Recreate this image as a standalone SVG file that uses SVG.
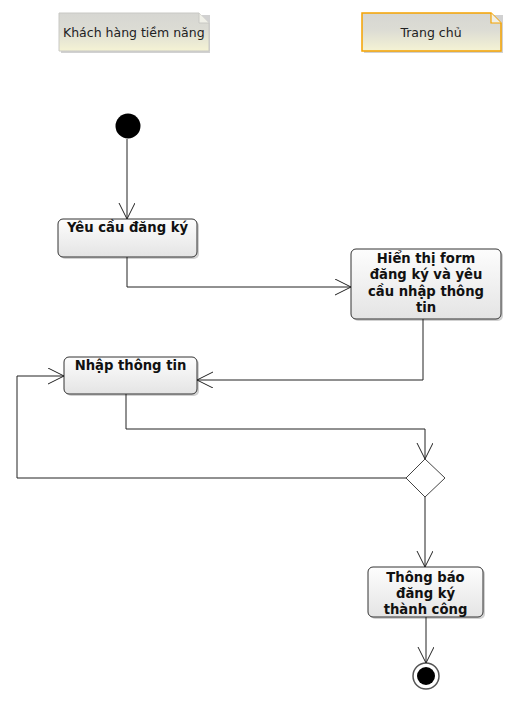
<svg xmlns="http://www.w3.org/2000/svg" width="515" height="718" viewBox="0 0 515 718">
<style>
.note{stroke-width:1}
.nt{font-family:"DejaVu Sans",Verdana,sans-serif;font-size:12.5px;fill:#222}
.act{fill:url(#ag);stroke:#333;stroke-width:1}
.at{font-family:"DejaVu Sans",Verdana,sans-serif;font-size:13.2px;font-weight:bold;fill:#111;text-anchor:middle}
.c{fill:none;stroke:#222;stroke-width:1}
.sh{fill:#000;opacity:0.18}
</style>
<defs>
<linearGradient id="ng" x1="0" y1="0" x2="0" y2="1">
<stop offset="0" stop-color="#d6d6d2"/>
<stop offset="0.45" stop-color="#dcdcd4"/>
<stop offset="1" stop-color="#f5f3d4"/>
</linearGradient>
<linearGradient id="ag" x1="0" y1="0" x2="0" y2="1">
<stop offset="0" stop-color="#fdfdfd"/>
<stop offset="1" stop-color="#e4e4e4"/>
</linearGradient>
<marker id="arr" markerWidth="18" markerHeight="18" refX="16" refY="8" orient="auto" markerUnits="userSpaceOnUse">
<path d="M0,0 L16,8 L0,16" fill="none" stroke="#222" stroke-width="1"/>
</marker>
</defs>

<g id="note-khach">
<path d="M61,15 H210 V53 H61 Z" class="sh"/>
<path d="M59,13 H199 L209,23 V51 H59 Z" fill="url(#ng)" stroke="#c8c8c4"/>
<path d="M199,13 V23 H209" fill="#f0f0e8" stroke="#c8c8c4"/>
<text class="nt" x="63" y="37">Khách hàng tiềm năng</text>
</g>

<g id="note-trang">
<path d="M364,15 H503 V53 H364 Z" class="sh"/>
<path d="M362,13 H491 L501,23 V51 H362 Z" fill="url(#ng)" stroke="#f5a300" stroke-width="1.5"/>
<path d="M491,13 V23 H501" fill="#f0f0e8" stroke="#f5a300" stroke-width="1.2"/>
<text class="nt" x="431" y="37" text-anchor="middle">Trang chủ</text>
</g>

<g id="start">
<circle cx="128" cy="126" r="12.5" fill="#000"/>
</g>

<g id="yeucau">
<rect x="60" y="221" width="139" height="38" rx="5" class="sh"/>
<rect x="58" y="219" width="139" height="38" rx="5" class="act"/>
<text class="at" x="127.5" y="232">Yêu cầu đăng ký</text>
</g>

<g id="hienthi">
<rect x="353" y="251" width="150" height="70" rx="5" class="sh"/>
<rect x="351" y="249" width="150" height="70" rx="5" class="act"/>
<text class="at" x="426" y="263">Hiển thị form</text>
<text class="at" x="426" y="279">đăng ký và yêu</text>
<text class="at" x="426" y="296">cầu nhập thông</text>
<text class="at" x="426" y="312">tin</text>
</g>

<g id="nhap">
<rect x="66" y="359" width="133" height="37" rx="5" class="sh"/>
<rect x="64" y="357" width="133" height="37" rx="5" class="act"/>
<text class="at" x="130.5" y="370">Nhập thông tin</text>
</g>

<g id="decision">
<path d="M425,459 L445,478 L425,497 L406,478 Z" fill="#fff" stroke="#444"/>
</g>

<g id="thongbao">
<rect x="370" y="569" width="115" height="50" rx="5" class="sh"/>
<rect x="368" y="567" width="115" height="50" rx="5" class="act"/>
<text class="at" x="425.5" y="582">Thông báo</text>
<text class="at" x="425.5" y="598">đăng ký</text>
<text class="at" x="425.5" y="614">thành công</text>
</g>

<g id="end">
<circle cx="426" cy="676" r="13" fill="#fff" stroke="#555" stroke-width="1.5"/>
<circle cx="426" cy="676" r="9" fill="#000"/>
</g>

<g id="connectors">
<path class="c" d="M127,139 V219" marker-end="url(#arr)"/>
<path class="c" d="M127,257 V287 H351" marker-end="url(#arr)"/>
<path class="c" d="M423,319 V380 H197" marker-end="url(#arr)"/>
<path class="c" d="M126,394 V429 H425 V459" marker-end="url(#arr)"/>
<path class="c" d="M406,478 H17 V376 H64" marker-end="url(#arr)"/>
<path class="c" d="M425,497 V567" marker-end="url(#arr)"/>
<path class="c" d="M426,617 V663" marker-end="url(#arr)"/>
</g>
</svg>
